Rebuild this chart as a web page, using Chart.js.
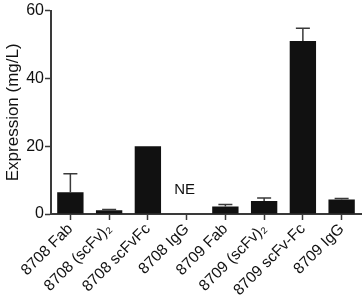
<!DOCTYPE html>
<html>
<head>
<meta charset="utf-8">
<script src="https://cdn.jsdelivr.net/npm/chart.js@4/dist/chart.umd.min.js"></script>
<style>
  html, body { margin: 0; padding: 0; background: #fff; }
  #wrap { width: 363px; height: 307px; position: relative; }
</style>
</head>
<body>
<div id="wrap"><canvas id="chart"></canvas></div>
<script>
// данные с картинки
const categories = ['8708 Fab', '8708 (scFv)₂', '8708 scFvFc', '8708 IgG', '8709 Fab', '8709 (scFv)₂', '8709 scFv-Fc', '8709 IgG'];
const expression = [6.4, 1.1, 20, 0, 2.2, 3.8, 51, 4.3];
const errorUp = [5.5, 0.2, 0, 0, 0.6, 0.9, 3.8, 0.3];
const notes = ['', '', '', 'NE', '', '', '', ''];
const yTicks = [0, 20, 40, 60];

const axisColor = '#3a3a3a';
const fontFamily = '"Liberation Sans", Arial, Helvetica, sans-serif';

// усы ошибок только вверх
const errorBarPlugin = {
  id: 'errorBars',
  afterDatasetsDraw(chart) {
    const { ctx, scales } = chart;
    const meta = chart.getDatasetMeta(0);
    ctx.save();
    ctx.strokeStyle = axisColor;
    ctx.lineWidth = 1.5;
    meta.data.forEach((bar, i) => {
      if (!errorUp[i]) return;
      const x = bar.x;
      const y0 = scales.y.getPixelForValue(expression[i]);
      const y1 = scales.y.getPixelForValue(expression[i] + errorUp[i]);
      ctx.beginPath();
      ctx.moveTo(x, y0);
      ctx.lineTo(x, y1);
      ctx.moveTo(x - 7, y1);
      ctx.lineTo(x + 7, y1);
      ctx.stroke();
    });
    // подписи типа NE
    ctx.fillStyle = '#111';
    ctx.font = '15px ' + fontFamily;
    ctx.textAlign = 'center';
    ctx.textBaseline = 'middle';
    notes.forEach((t, i) => {
      if (!t) return;
      ctx.fillText(t, scales.x.getPixelForValue(i) - 2, scales.y.getPixelForValue(7.0));
    });
    ctx.restore();
  },
};

const ctx = document.getElementById('chart').getContext('2d');
new Chart(ctx, {
  type: 'bar',
  data: {
    labels: categories,
    datasets: [{
      data: expression,
      backgroundColor: '#111111',
      borderWidth: 0,
      categoryPercentage: 1,
      barPercentage: 0.68,
    }],
  },
  options: {
    animation: false,
    responsive: true,
    maintainAspectRatio: false,
    layout: { padding: { left: 0, right: 2, top: 9, bottom: 0 } },
    plugins: {
      legend: { display: false },
      tooltip: { enabled: false },
    },
    scales: {
      x: {
        grid: {
          display: true,
          drawOnChartArea: false,
          drawTicks: true,
          tickLength: 6,
          tickWidth: 1.5,
          color: axisColor,
          offset: false,
        },
        border: { color: axisColor, width: 2 },
        ticks: {
          color: '#111',
          font: { family: fontFamily, size: 15.5 },
          maxRotation: 45,
          minRotation: 45,
          padding: 0,
          autoSkip: false,
        },
        afterFit: (scale) => { scale.height = 93; },
      },
      y: {
        min: 0,
        max: 60,
        afterBuildTicks: (scale) => { scale.ticks = yTicks.map((v) => ({ value: v })); },
        grid: {
          drawOnChartArea: false,
          drawTicks: true,
          tickLength: 6,
          tickWidth: 1.5,
          color: axisColor,
        },
        border: { color: axisColor, width: 2 },
        ticks: {
          color: '#111',
          font: { family: fontFamily, size: 16 },
          padding: 1,
        },
        title: {
          display: true,
          text: 'Expression (mg/L)',
          color: '#111',
          font: { family: fontFamily, size: 17 },
          padding: { top: 3, bottom: 2 },
        },
        afterFit: (scale) => { scale.width = 51; },
      },
    },
  },
  plugins: [errorBarPlugin],
});
</script>
</body>
</html>
